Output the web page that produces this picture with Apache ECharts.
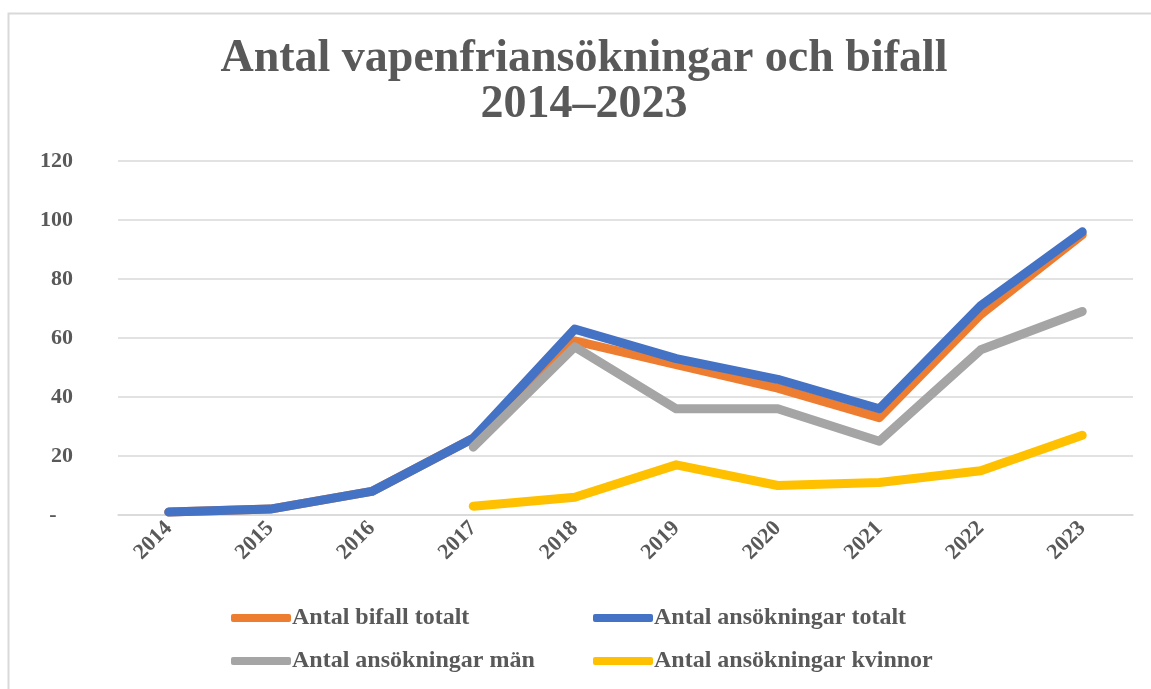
<!DOCTYPE html>
<html>
<head>
<meta charset="utf-8">
<script src="https://cdn.jsdelivr.net/npm/echarts@6/dist/echarts.min.js"></script>
<style>
html,body{margin:0;padding:0;background:#fff;}
#c{width:1151px;height:689px;}
</style>
</head>
<body>
<div id="c"></div>
<script>
const years = ['2014','2015','2016','2017','2018','2019','2020','2021','2022','2023'];
const bifallTotalt = [1, 2, 8, 26, 59, 51, 43, 33, 68, 95];
const ansokTotalt = [1, 2, 8, 26, 63, 53, 46, 36, 71, 96];
const ansokMan = [null, null, null, 23, 57, 36, 36, 25, 56, 69];
const ansokKvinnor = [null, null, null, 3, 6, 17, 10, 11, 15, 27];
const yTicks = [0, 20, 40, 60, 80, 100, 120];

const FONT = '"Liberation Serif", "DejaVu Serif", serif';
const TXT = '#595959';
const chart = echarts.init(document.getElementById('c'));
function line(name, data, color) {
  return {
    name, type: 'line', data, showSymbol: false, symbol: 'none',
    lineStyle: {width: 9, color, cap: 'round', join: 'round'},
    itemStyle: {color}, connectNulls: false, animation: false
  };
}
const legendText = {fontFamily: FONT, fontWeight: 'bold', fontSize: 24, color: TXT, padding: [0,0,0,-4]};
chart.setOption({
  animation: false,
  backgroundColor: '#fff',
  graphic: [{type: 'rect', shape: {x: 8.5, y: 13.5, width: 1200, height: 800},
    style: {fill: 'none', stroke: '#d9d9d9', lineWidth: 2}, silent: true, z: -1}],
  title: {
    text: 'Antal vapenfriansökningar och bifall\n2014–2023',
    left: 579, top: 31, textAlign: 'center',
    textStyle: {fontFamily: FONT, fontWeight: 'bold', fontSize: 46, color: TXT, lineHeight: 46}
  },
  legend: [
    {data: ['Antal bifall totalt', 'Antal ansökningar män'], orient: 'vertical', left: 226, top: 601,
     itemWidth: 60, itemHeight: 8, itemGap: 19, icon: 'roundRect', textStyle: legendText},
    {data: ['Antal ansökningar totalt', 'Antal ansökningar kvinnor'], orient: 'vertical', left: 588, top: 601,
     itemWidth: 60, itemHeight: 8, itemGap: 19, icon: 'roundRect', textStyle: legendText}
  ],
  grid: {left: 118, right: 18, top: 161, bottom: 174},
  xAxis: {
    type: 'category', data: years, boundaryGap: true,
    axisLine: {show: true, lineStyle: {color: '#d9d9d9', width: 1.5}},
    axisTick: {show: false},
    axisLabel: {rotate: 45, fontFamily: FONT, fontWeight: 'bold', fontSize: 22, color: TXT, margin: 10}
  },
  yAxis: {
    type: 'value', min: yTicks[0], max: yTicks[yTicks.length-1], interval: 20,
    axisLine: {show: false}, axisTick: {show: false},
    splitLine: {lineStyle: {color: '#d9d9d9', width: 1.5}},
    axisLabel: {fontFamily: FONT, fontWeight: 'bold', fontSize: 22, color: TXT, margin: 45,
      formatter: v => v === 0 ? '-   ' : String(v)}
  },
  series: [
    line('Antal bifall totalt', bifallTotalt, '#ED7D31'),
    line('Antal ansökningar totalt', ansokTotalt, '#4472C4'),
    line('Antal ansökningar män', ansokMan, '#A5A5A5'),
    line('Antal ansökningar kvinnor', ansokKvinnor, '#FFC000')
  ]
});
</script>
</body>
</html>
